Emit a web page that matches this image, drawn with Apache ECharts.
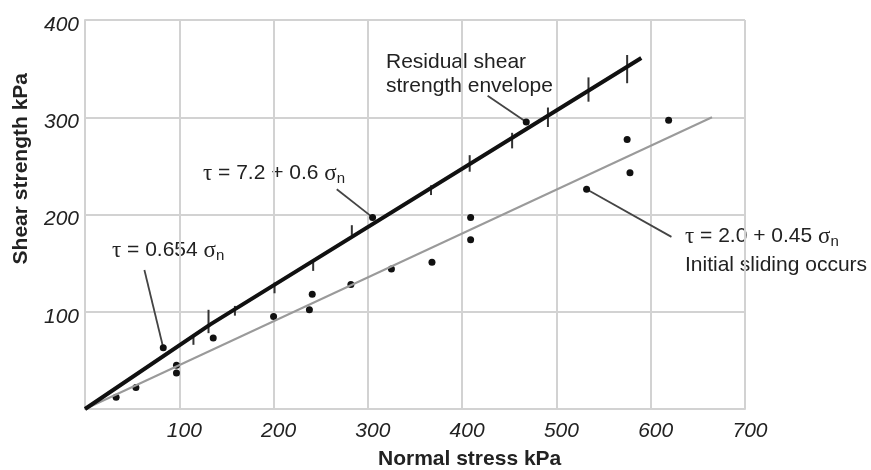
<!DOCTYPE html>
<html style="height: 100%">
<head>
    <meta charset="UTF-8">
    <script type="text/javascript" src="https://cdn.jsdelivr.net/npm/echarts@6/dist/echarts.min.js"></script>
    <style type="text/css">
        body {margin:0; padding:0; overflow:hidden; height: 100%; background: #fff}
    </style>
</head>
<body>
    <div id="container" style="width:871px;height:470px"></div>
<script>
    // residual envelope: tau = 0.654 sn up to ~133 kPa, then tau = 7.2 + 0.6 sn
    var residualLine = [[0, 0], [133, 87], [590, 361]];
    // initial sliding: tau = 2.0 + 0.45 sn
    var slidingLine = [[0, 0], [665, 300]];
    // vertical bars on the residual envelope: [sn, low, high]
    var residualBars = [
        [115, 66, 76], [131, 78, 102], [159, 96, 106], [201, 119, 130],
        [242, 142, 152], [283, 179, 189], [367, 220, 230], [408, 244, 261],
        [453, 268, 284], [491, 290, 310], [534, 316, 341], [575, 335, 364]
    ];
    // dots
    var testPoints = [
        [33, 12], [54, 22], [97, 45], [97, 37], [136, 73], [200, 95],
        [238, 102], [241, 118], [282, 128], [325, 144], [368, 151],
        [409, 197], [409, 174], [575, 277], [578, 243], [619, 297],
        [83, 63], [305, 197], [468, 295], [532, 226]
    ];
    // annotation leader lines, from label to point
    var leaderFrom = [[63, 143], [267, 226], [427, 322], [622, 177]];
    var leaderTo = [[83, 63], [305, 197], [468, 295], [532, 226]];
    var xTicks = [0, 100, 200, 300, 400, 500, 600, 700];
    var yTicks = [0, 100, 200, 300, 400];

    var myChart = echarts.init(document.getElementById('container'));

    var sans = 'Liberation Sans, Arial, sans-serif';
    var serif = 'Liberation Serif, Times New Roman, serif';
    var greek = {
        g: {fontFamily: serif, fontSize: 23, color: '#222'},
        sub: {fontFamily: sans, fontSize: 15, color: '#222', padding: [10, 0, 0, 0]},
        t: {fontFamily: sans, fontSize: 21, color: '#222'}
    };

    function label(x, y, text) {
        return {
            type: 'text', left: x, top: y,
            style: {text: text, rich: greek, fontFamily: sans, fontSize: 21, fill: '#222'}
        };
    }

    var leaders = leaderFrom.map(function (p, i) {
        return {coords: [p, leaderTo[i]]};
    });

    option = {
        animation: false,
        grid: {left: 85, right: 126, top: 20, bottom: 61, containLabel: false},
        xAxis: {
            type: 'value', min: xTicks[0], max: xTicks[xTicks.length - 1], interval: 100,
            axisLine: {lineStyle: {color: '#d2d2d2', width: 2}},
            axisTick: {show: false},
            splitLine: {lineStyle: {color: '#d2d2d2', width: 2}},
            axisLabel: {
                margin: 12, fontSize: 21, fontStyle: 'italic', color: '#222', fontFamily: sans,
                padding: [0, 0, 0, 10],
                formatter: function (v) { return v === 0 ? '' : v; }
            }
        },
        yAxis: {
            type: 'value', min: yTicks[0], max: yTicks[yTicks.length - 1], interval: 100,
            axisLine: {show: true, lineStyle: {color: '#d2d2d2', width: 2}},
            axisTick: {show: false},
            splitLine: {lineStyle: {color: '#d2d2d2', width: 2}},
            axisLabel: {
                margin: 6,
                formatter: function (v) { return v === 0 ? '' : '{v|' + v + '}'; },
                rich: {
                    v: {
                        fontSize: 21, fontStyle: 'italic', color: '#222', fontFamily: sans,
                        padding: [10, 0, 0, 0]
                    }
                }
            }
        },
        series: [
            {
                type: 'line', data: slidingLine, symbol: 'none',
                lineStyle: {color: '#9a9a9a', width: 2}
            },
            {
                type: 'line', data: residualLine, symbol: 'none',
                lineStyle: {color: '#111', width: 4}
            },
            {
                type: 'custom', data: residualBars,
                renderItem: function (params, api) {
                    var lo = api.coord([api.value(0), api.value(1)]);
                    var hi = api.coord([api.value(0), api.value(2)]);
                    return {
                        type: 'line',
                        shape: {x1: lo[0], y1: lo[1], x2: hi[0], y2: hi[1]},
                        style: {stroke: '#333', lineWidth: 2}
                    };
                }
            },
            {
                type: 'scatter', data: testPoints, symbolSize: 7,
                itemStyle: {color: '#111', opacity: 1}
            },
            {
                type: 'lines', coordinateSystem: 'cartesian2d', data: leaders,
                symbol: 'none', lineStyle: {color: '#444', width: 1.8, opacity: 1}
            }
        ],
        graphic: [
            label(112, 239, '{g|τ}{t| = 0.654 }{g|σ}{sub|n}'),
            label(203, 162, '{g|τ}{t| = 7.2 + 0.6 }{g|σ}{sub|n}'),
            {
                type: 'text', left: 386, top: 50,
                style: {
                    text: 'Residual shear\nstrength envelope', fontFamily: sans, fontSize: 21,
                    fill: '#222', align: 'center', lineHeight: 24
                }
            },
            label(685, 225, '{g|τ}{t| = 2.0 + 0.45 }{g|σ}{sub|n}'),
            label(685, 255, 'Initial sliding occurs'),
            {
                type: 'text', left: 378, top: 449,
                style: {text: 'Normal stress kPa', fontFamily: sans, fontSize: 21, fontWeight: 'bold', fill: '#222'}
            },
            {
                type: 'text', left: 11, top: 73, rotation: Math.PI / 2,
                style: {text: 'Shear strength kPa', fontFamily: sans, fontSize: 21, fontWeight: 'bold', fill: '#222'}
            }
        ]
    };
    myChart.setOption(option);
</script>
</body>
</html>
